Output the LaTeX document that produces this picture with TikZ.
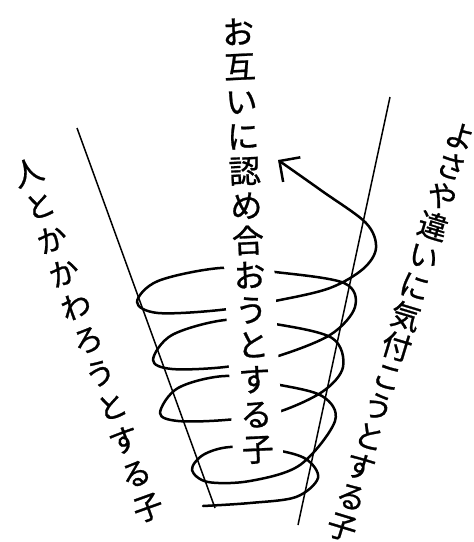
\documentclass[tikz,border=0pt]{standalone}
\usepackage{fontspec}
\newfontfamily\jpfont[FakeBold=0.8]{Noto Sans CJK JP}
\usetikzlibrary{arrows.meta}
\tikzset{
	guide/.style={line width=1.5pt, draw=black},
	spiral/.style={line width=2.5pt, draw=black, line cap=round, line join=round},
	vtext/.style={align=center, inner sep=0pt, font=\jpfont\fontsize{30}{#1}\selectfont},
	gap/.style={fill=white, inner xsep=9pt}
}

\begin{document}
\begin{tikzpicture}[x=1pt, y=-1pt]
	\useasboundingbox (0,0) rectangle (474,542);
	% --- the two guide lines ---
	\coordinate (ltop) at (77,128);
	\coordinate (lbot) at (215,508);
	\coordinate (rtop) at (390,97);
	\coordinate (rbot) at (298,525);
	\draw[guide] (ltop) -- (lbot);
	\draw[guide] (rtop) -- (rbot);
	
	% --- spiral, rising from the bottom ---
	\draw[spiral, -{Straight Barb[length=15pt, width=30pt]}] plot[smooth, tension=0.55] coordinates {
		(203,506) (250,503) (296,497) (318,478) (306,459) (275,450) (230,447) (203,455) (192,470)
		(208,482) (250,481) (300,465) (335,421) (322,396) (275,384) (225,376) (178,388) (160,413)
		(178,421) (225,420) (275,413) (322,392) (343,367) (332,338) (275,324) (225,320) (172,335) (153,360)
		(172,369) (225,367) (275,357) (330,335) (355,307) (344,283) (275,272) (220,268) (158,281) (137,302)
		(158,313) (220,310) (280,300) (330,288) (363,269) (376,248) (366,223) (322,191) (278,160)};
	
	% --- labels ---
	\node[vtext=34.8, gap, rotate=2.7, font=\jpfont\fontsize{32}{34.8}\selectfont] (mutual) at (248,241)
		{お\\互\\い\\に\\認\\め\\合\\お\\う\\と\\す\\る\\子};
	\node[vtext=35.6, rotate=19.7] (relate) at (88,340)
		{人\\と\\か\\か\\わ\\ろ\\う\\と\\す\\る\\子};
	\node[vtext=31.4, rotate=-16.8] (notice) at (401,332)
		{よ\\さ\\や\\違\\い\\に\\気\\付\\こ\\う\\と\\す\\る\\子};
\end{tikzpicture}
\end{document}
